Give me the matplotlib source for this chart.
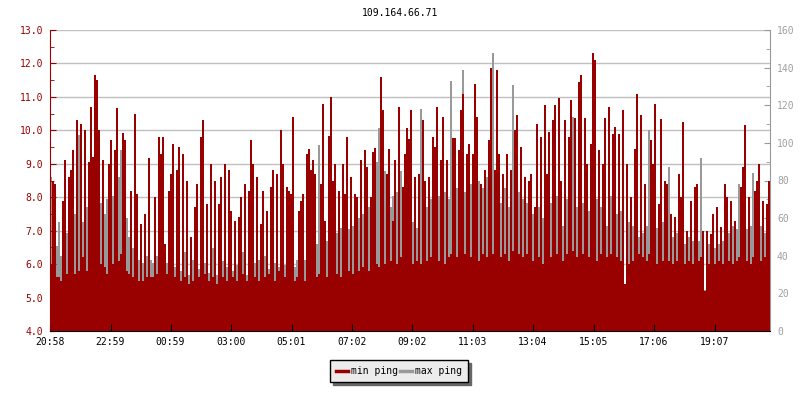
import matplotlib
matplotlib.use('Agg')
import matplotlib.pyplot as plt
from matplotlib.lines import Line2D
import numpy as np

plt.rcParams['font.family'] = ['DejaVu Sans Mono']

title = "109.164.66.71"
tick_labels = ["20:58", "22:59", "00:59", "03:00", "05:01", "07:02",
               "09:02", "11:03", "13:04", "15:05", "17:06", "19:07"]
step_minutes = 4

min_ping = [
    # 20:58 - 00:58
    6.0, 8.5, 8.4, 5.6, 5.6, 5.5, 7.9, 9.1, 5.7, 8.6,
    8.8, 9.4, 5.7, 10.3, 5.8, 10.2, 6.2, 10.0, 5.8, 9.05,
    10.7, 9.2, 11.65, 11.5, 10.0, 6.0, 9.1, 5.9, 5.7, 9.0,
    9.7, 6.0, 9.4, 10.66, 6.1, 6.3, 9.93, 9.7, 5.8, 5.7,
    8.2, 5.6, 10.5, 8.1, 5.5, 7.2, 5.5, 7.5, 5.6, 9.17,
    5.6, 5.6, 8.0, 5.7, 9.8, 9.3, 9.8, 6.6, 5.7, 8.2,
    # 00:58 - 04:58
    8.7, 9.6, 5.6, 8.8, 9.5, 5.5, 9.3, 5.6, 8.5, 5.4,
    6.8, 5.5, 7.7, 8.4, 5.6, 9.8, 10.3, 5.7, 7.8, 5.5,
    9.0, 5.6, 8.5, 5.4, 7.8, 8.6, 5.6, 9.0, 5.5, 8.8,
    7.6, 5.6, 7.3, 5.5, 7.4, 8.0, 5.7, 8.4, 5.5, 8.2,
    9.7, 9.0, 5.6, 8.6, 5.5, 7.2, 8.2, 5.6, 7.6, 5.7,
    8.3, 8.8, 5.5, 8.7, 5.8, 10.0, 9.0, 5.6, 8.3, 8.2,
    # 04:58 - 08:58
    8.1, 10.4, 5.5, 5.6, 7.6, 7.9, 8.1, 5.5, 9.3, 9.45,
    8.8, 9.1, 8.7, 5.6, 5.7, 8.4, 10.8, 7.3, 5.6, 9.83,
    11.0, 8.5, 9.0, 5.7, 8.2, 5.6, 9.0, 8.1, 9.8, 5.8,
    8.6, 5.7, 8.1, 8.0, 5.8, 9.1, 5.9, 9.4, 8.9, 5.8,
    8.0, 9.35, 9.47, 6.0, 5.9, 11.6, 10.6, 6.0, 8.7, 9.45,
    6.1, 7.3, 9.1, 6.0, 10.7, 6.2, 8.3, 9.3, 10.06, 9.75,
    # 08:58 - 12:58
    10.6, 6.0, 8.6, 6.1, 8.7, 6.0, 10.3, 8.5, 6.1, 8.6,
    6.2, 9.8, 9.5, 10.7, 6.1, 9.1, 10.4, 6.0, 9.1, 6.2,
    6.3, 9.76, 9.76, 6.2, 9.4, 10.6, 11.1, 6.3, 9.3, 9.6,
    6.2, 9.3, 11.4, 10.4, 6.1, 8.4, 6.3, 8.8, 6.2, 9.7,
    11.85, 6.3, 8.8, 11.8, 9.3, 6.2, 8.7, 6.3, 9.3, 6.1,
    8.8, 6.4, 10.0, 10.46, 6.3, 9.5, 6.2, 8.6, 6.3, 8.5,
    # 12:58 - 16:58
    8.7, 6.1, 7.7, 10.2, 6.2, 9.8, 6.0, 10.76, 8.7, 9.96,
    6.2, 10.3, 10.76, 6.3, 10.96, 8.5, 6.1, 10.3, 6.3, 9.8,
    10.9, 6.4, 10.36, 6.2, 11.46, 11.66, 6.3, 10.36, 9.0, 6.2,
    9.6, 12.3, 12.1, 6.1, 9.4, 6.3, 9.0, 10.36, 6.2, 10.7,
    6.3, 9.9, 10.1, 6.2, 9.9, 6.1, 10.6, 5.4, 9.0, 6.0,
    8.0, 6.1, 9.45, 11.1, 6.3, 10.46, 6.2, 8.4, 6.1, 6.3,
    # 16:58 - 20:58
    9.7, 9.0, 10.8, 6.0, 7.8, 10.33, 6.1, 8.5, 8.4, 6.1,
    7.5, 6.0, 7.4, 6.1, 8.7, 8.0, 10.26, 6.0, 7.0, 6.1,
    7.9, 6.0, 8.3, 8.4, 6.1, 6.2, 7.0, 5.2, 7.0, 6.0,
    6.9, 7.5, 6.0, 7.7, 6.1, 7.1, 6.0, 8.4, 8.0, 6.1,
    7.9, 6.0, 7.3, 6.1, 6.2, 8.3, 8.9, 10.16, 6.1, 8.0,
    6.0, 6.2, 8.2, 8.5, 9.0, 6.1, 7.9, 6.2, 7.8, 8.5,
]

max_ping = [
    # 20:58 - 00:58
    82, 60, 52, 45, 58, 40, 48, 44, 52, 55,
    48, 50, 62, 45, 104, 50, 58, 55, 66, 50,
    60, 55, 62, 58, 60, 68, 55, 62, 70, 58,
    64, 72, 60, 75, 82, 96, 70, 66, 60, 50,
    46, 44, 42, 40, 38, 42, 36, 38, 40, 35,
    38, 36, 34, 40, 36, 38, 34, 42, 36, 38,
    # 00:58 - 04:58
    45, 38, 34, 40, 36, 32, 38, 42, 36, 30,
    34, 38, 36, 40, 33, 38, 42, 36, 40, 31,
    38, 44, 36, 30, 35, 40, 37, 42, 34, 38,
    36, 32, 40, 35, 38, 34, 42, 36, 30, 38,
    44, 40, 36, 34, 38, 32, 36, 40, 35, 33,
    55, 38, 36, 42, 34, 40, 38, 35, 33, 37,
    # 04:58 - 08:58
    40, 36, 34, 38, 42, 36, 40, 38, 35, 42,
    38, 44, 40, 46, 99, 42, 40, 45, 48, 44,
    42, 46, 50, 52, 48, 55, 50, 52, 58, 54,
    50, 56, 52, 58, 60, 55, 62, 58, 60, 66,
    62, 58, 64, 90, 108, 80, 75, 85, 82, 70,
    66, 72, 68, 74, 65, 85, 70, 64, 68, 62,
    # 08:58 - 12:58
    62, 58, 60, 55, 64, 118, 60, 58, 66, 62,
    70, 64, 60, 66, 72, 62, 68, 74, 64, 70,
    133, 66, 70, 76, 68, 72, 139, 74, 70, 66,
    78, 72, 68, 74, 80, 70, 76, 72, 82, 70,
    75, 148, 72, 70, 74, 68, 72, 76, 70, 66,
    72, 131, 68, 70, 74, 66, 70, 64, 68, 62,
    # 12:58 - 16:58
    55, 62, 50, 58, 66, 52, 60, 56, 62, 58,
    68, 54, 60, 72, 58, 64, 56, 62, 70, 58,
    64, 114, 60, 66, 58, 62, 68, 56, 60, 64,
    58, 62, 56, 70, 60, 66, 58, 62, 56, 60,
    72, 58, 54, 62, 56, 64, 58, 24, 52, 58,
    50, 56, 48, 54, 50, 46, 52, 48, 56, 107,
    # 16:58 - 20:58
    48, 52, 45, 55, 50, 48, 58, 52, 50, 87,
    54, 50, 46, 52, 44, 48, 50, 46, 42, 50,
    44, 48, 46, 42, 48, 92, 44, 22, 40, 46,
    42, 48, 44, 50, 46, 42, 48, 50, 46, 52,
    50, 56, 48, 54, 78, 52, 50, 48, 54, 50,
    56, 84, 52, 50, 54, 56, 50, 52, 48, 46,
]

RED = '#990000'
GRAY = '#999999'
GRAY_TXT = '#a0a0a0'
FS = 7


def to_min(s):
    h, m = s.split(':')
    return int(h) * 60 + int(m)


t0 = to_min(tick_labels[0])
tick_pos = [((to_min(s) - t0) % 1440) for s in tick_labels]

x = np.arange(len(min_ping)) * step_minutes
xmax = len(min_ping) * step_minutes

fig = plt.figure(figsize=(8, 4), dpi=100)
rect = [50 / 800, 69 / 400, 720 / 800, 301 / 400]

# grid axes (behind everything)
axG = fig.add_axes(rect, zorder=0)
axG.set_xlim(0, xmax)
axG.set_ylim(4, 13)
axG.set_yticks(np.arange(4, 14, 1))
axG.grid(axis='y', color='#c0c0c0', lw=1)
axG.tick_params(left=False, bottom=False, labelleft=False, labelbottom=False)
for s in axG.spines.values():
    s.set_visible(False)

# max ping (right axis)
axR = fig.add_axes(rect, zorder=1)
axR.patch.set_visible(False)
axR.bar(x, max_ping, width=step_minutes, align='edge', color=GRAY, lw=0,
        antialiased=False)
axR.set_xlim(0, xmax)
axR.set_ylim(0, 160)
axR.yaxis.tick_right()
axR.set_yticks(np.arange(0, 161, 20))
axR.set_yticks(np.arange(10, 160, 20), minor=True)
axR.tick_params(axis='y', which='both', direction='in', colors=GRAY, labelcolor=GRAY_TXT,
                labelsize=FS, pad=5)
axR.tick_params(axis='y', which='major', length=4)
axR.tick_params(axis='y', which='minor', length=3)
axR.tick_params(axis='x', bottom=False, labelbottom=False)
for k, s in axR.spines.items():
    s.set_visible(k == 'right')
axR.spines['right'].set_color(GRAY)

# min ping (left axis)
axL = fig.add_axes(rect, zorder=2)
axL.patch.set_visible(False)
axL.bar(x, min_ping, width=step_minutes, align='edge', color=RED, lw=0,
        antialiased=False)
axL.set_xlim(0, xmax)
axL.set_ylim(4, 13)
axL.set_yticks(np.arange(4, 14, 1))
axL.set_yticklabels([f"{v:.1f}" for v in np.arange(4, 14, 1)])
axL.set_yticks(np.arange(4.5, 13, 1), minor=True)
axL.tick_params(axis='y', which='both', direction='in', colors=RED, labelsize=FS, pad=5)
axL.tick_params(axis='y', which='major', length=4)
axL.tick_params(axis='y', which='minor', length=3)
axL.set_xticks(tick_pos)
axL.set_xticklabels(tick_labels)
axL.tick_params(axis='x', direction='in', length=5, colors='black', labelsize=FS, pad=4)
axL.spines['top'].set_visible(False)
axL.spines['right'].set_visible(False)
axL.spines['left'].set_color(RED)
axL.spines['bottom'].set_color('black')

fig.text(0.5, 1 - 13 / 400, title, ha='center', va='center', fontsize=FS)

handles = [Line2D([], [], color=RED, lw=2.5), Line2D([], [], color=GRAY, lw=2.5)]
leg = fig.legend(handles, ['min ping', 'max ping'], ncol=2, loc='center',
                 bbox_to_anchor=(399 / 800, 1 - 371 / 400), fontsize=FS,
                 frameon=True, fancybox=False, edgecolor='black', facecolor='#ececec',
                 framealpha=1, handlelength=1.2, handletextpad=0.3, columnspacing=0.3,
                 borderpad=0.6,
                 shadow={'facecolor': '#666666', 'edgecolor': '#666666', 'alpha': 1})
leg.get_frame().set_linewidth(1)

fig.savefig('out.png', dpi=100)
